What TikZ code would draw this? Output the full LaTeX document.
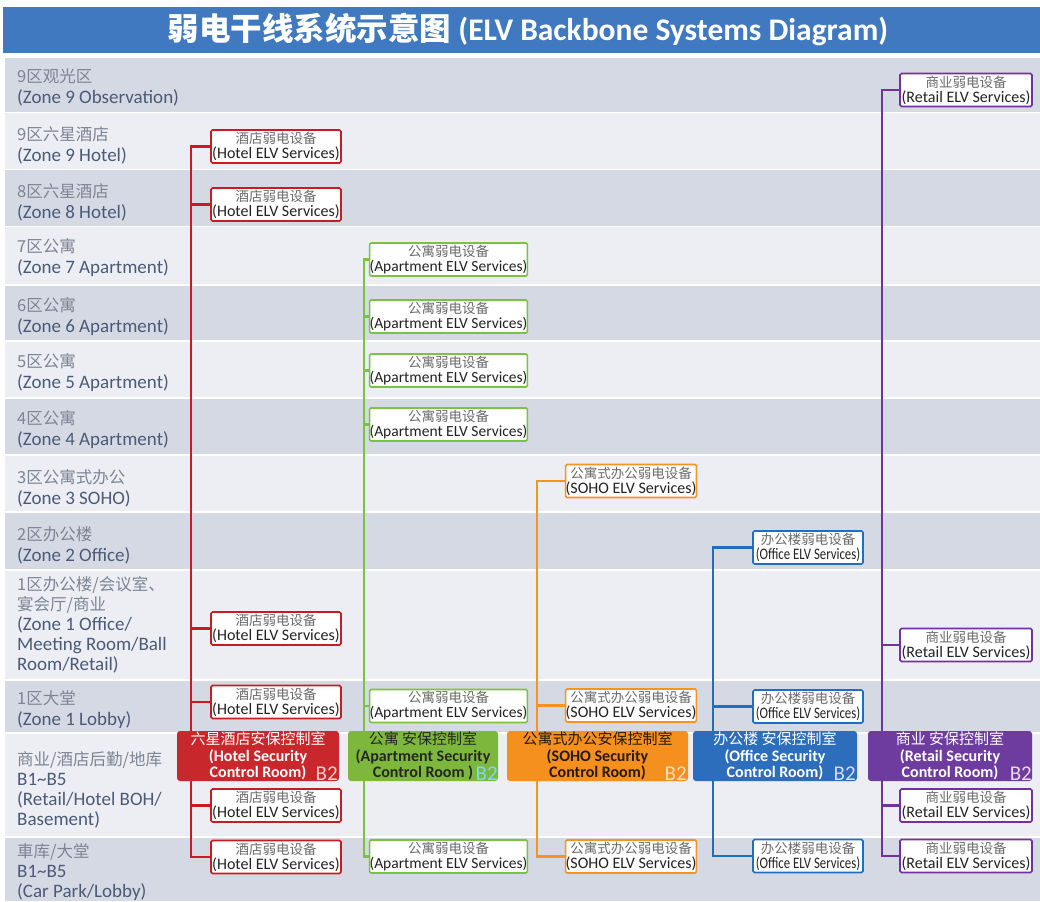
\documentclass[tikz,border=0pt]{standalone}
\usepackage{fontspec}
\setmainfont{Carlito}
\newfontfamily\cjk{Noto Sans CJK SC}
\definecolor{titleblue}{HTML}{4179C0}
\definecolor{bandG}{HTML}{D5D9E3}
\definecolor{bandL}{HTML}{ECEEF3}
\definecolor{lblC}{HTML}{7D8494}
\definecolor{lblE}{HTML}{4B5A78}
\definecolor{cRed}{HTML}{CC1A20}
\definecolor{cGreen}{HTML}{7CC242}
\definecolor{cOrange}{HTML}{F7931E}
\definecolor{cBlue}{HTML}{1D6FC2}
\definecolor{cPurple}{HTML}{7330A0}
\definecolor{fRed}{HTML}{C8282C}
\definecolor{fGreen}{HTML}{7DB83C}
\definecolor{fOrange}{HTML}{F5901E}
\definecolor{fBlue}{HTML}{2C6EBC}
\definecolor{fPurple}{HTML}{6E3C9E}
\definecolor{svcC}{HTML}{6A6A6A}
\definecolor{svcE}{HTML}{222222}
\newcommand{\zc}[1]{{\cjk\fontsize{16.5}{21}\selectfont\color{lblC}#1}}
\newcommand{\svcx}[2]{{\cjk\fontsize{13.5}{15}\selectfont\color{svcC}#1}\\{\color{svcE}#2}}
\newcommand{\ctlx}[3]{{\cjk\fontsize{15}{16.5}\selectfont #1}\\\textbf{#2}\\\textbf{#3}}
\tikzset{
  zlabel/.style={anchor=west, align=left, inner sep=0pt, text=lblE, font=\fontsize{19}{21}\selectfont},
  svcbox/.style={draw=#1, fill=white, line width=1.6pt, rounded corners=1.5pt, inner sep=0pt, align=center, minimum height=33pt, font=\fontsize{16}{15}\selectfont},
  ctlbox/.style={fill=#1, rounded corners=3pt, inner sep=0pt, minimum height=50pt, align=center, font=\fontsize{16}{16.5}\selectfont},
  btwo/.style={anchor=south east, inner sep=0pt, font=\fontsize{21}{21}\selectfont, text=#1},
  trunk/.style={draw=#1, line width=2.4pt}
}
\begin{document}
\begin{tikzpicture}[x=1pt,y=-1pt]
\useasboundingbox (0,0) rectangle (1040,901);
\fill[white] (0,0) rectangle (1040,901);
% bands
\fill[bandG] (5,58) rectangle (1040,112);
\fill[bandL] (5,113.5) rectangle (1040,169);
\fill[bandG] (5,170.5) rectangle (1040,226);
\fill[bandL] (5,227.5) rectangle (1040,284);
\fill[bandG] (5,285.5) rectangle (1040,340);
\fill[bandL] (5,341.5) rectangle (1040,397);
\fill[bandG] (5,398.5) rectangle (1040,454);
\fill[bandL] (5,455.5) rectangle (1040,511);
\fill[bandG] (5,512.5) rectangle (1040,569);
\fill[bandL] (5,570.5) rectangle (1040,679);
\fill[bandG] (5,680.5) rectangle (1040,732);
\fill[bandL] (5,733.5) rectangle (1040,836);
\fill[bandG] (5,837.5) rectangle (1040,901);
% title
\fill[titleblue] (3,7) rectangle (1040,53);
\node[text=white, font=\fontsize{31.5}{32}\selectfont\bfseries] (title) at (528,29) {{\cjk 弱电干线系统示意图} (ELV Backbone Systems Diagram)};
% zone labels
\node[zlabel] (z9o) at (17,87) {\zc{9区观光区}\\(Zone 9 Observation)};
\node[zlabel] (z9h) at (17,145) {\zc{9区六星酒店}\\(Zone 9 Hotel)};
\node[zlabel] (z8h) at (17,202) {\zc{8区六星酒店}\\(Zone 8 Hotel)};
\node[zlabel] (z7) at (17,258) {\zc{7区公寓}\\(Zone 7 Apartment)};
\node[zlabel] (z6) at (17,317) {\zc{6区公寓}\\(Zone 6 Apartment)};
\node[zlabel] (z5) at (17,373) {\zc{5区公寓}\\(Zone 5 Apartment)};
\node[zlabel] (z4) at (17,430) {\zc{4区公寓}\\(Zone 4 Apartment)};
\node[zlabel] (z3) at (17,488) {\zc{3区公寓式办公}\\(Zone 3 SOHO)};
\node[zlabel] (z2) at (17,545) {\zc{2区办公楼}\\(Zone 2 Office)};
\node[zlabel, font=\fontsize{19}{20}\selectfont] (z1o) at (17,625) {\zc{1区办公楼/会议室、}\\\zc{宴会厅/商业}\\(Zone 1 Office/\\Meeting Room/Ball\\Room/Retail)};
\node[zlabel] (z1l) at (17,710) {\zc{1区大堂}\\(Zone 1 Lobby)};
\node[zlabel, font=\fontsize{19}{20}\selectfont] (zb) at (17,790) {\zc{商业/酒店后勤/地库}\\B1\textasciitilde B5\\(Retail/Hotel BOH/\\Basement)};
\node[zlabel, font=\fontsize{19}{20}\selectfont] (zc) at (17,872) {\zc{車库/大堂}\\B1\textasciitilde B5\\(Car Park/Lobby)};
% hotel boxes
\node[svcbox=cRed, minimum width=130pt] (h1) at (276,146.5) {\svcx{酒店弱电设备}{(Hotel ELV Services)}};
\node[svcbox=cRed, minimum width=130pt] (h2) at (276,204.5) {\svcx{酒店弱电设备}{(Hotel ELV Services)}};
\node[svcbox=cRed, minimum width=130pt] (h3) at (276,628.5) {\svcx{酒店弱电设备}{(Hotel ELV Services)}};
\node[svcbox=cRed, minimum width=130pt] (h4) at (276,702) {\svcx{酒店弱电设备}{(Hotel ELV Services)}};
\node[svcbox=cRed, minimum width=130pt] (h5) at (276,805.5) {\svcx{酒店弱电设备}{(Hotel ELV Services)}};
\node[svcbox=cRed, minimum width=130pt] (h6) at (276,857) {\svcx{酒店弱电设备}{(Hotel ELV Services)}};
% apartment boxes
\tikzset{apt/.style={svcbox=cGreen, minimum width=153pt, font=\fontsize{15.5}{15}\selectfont}}
\node[apt] (a1) at (448.5,259.5) {\svcx{公寓弱电设备}{(Apartment ELV Services)}};
\node[apt] (a2) at (448.5,316.5) {\svcx{公寓弱电设备}{(Apartment ELV Services)}};
\node[apt] (a3) at (448.5,370.5) {\svcx{公寓弱电设备}{(Apartment ELV Services)}};
\node[apt] (a4) at (448.5,424.5) {\svcx{公寓弱电设备}{(Apartment ELV Services)}};
\node[apt] (a5) at (448.5,706) {\svcx{公寓弱电设备}{(Apartment ELV Services)}};
\node[apt] (a6) at (448.5,856.5) {\svcx{公寓弱电设备}{(Apartment ELV Services)}};
% soho boxes
\node[svcbox=cOrange, minimum width=130pt] (s1) at (631,481) {\svcx{公寓式办公弱电设备}{(SOHO ELV Services)}};
\node[svcbox=cOrange, minimum width=130pt] (s2) at (631,705.5) {\svcx{公寓式办公弱电设备}{(SOHO ELV Services)}};
\node[svcbox=cOrange, minimum width=130pt] (s3) at (631,856.5) {\svcx{公寓式办公弱电设备}{(SOHO ELV Services)}};
% office boxes
\node[svcbox=cBlue, minimum width=110pt] (o1) at (808,547.5) {\svcx{办公楼弱电设备}{\scalebox{0.8}[1]{(Office ELV Services)}}};
\node[svcbox=cBlue, minimum width=110pt] (o2) at (808,706.5) {\svcx{办公楼弱电设备}{\scalebox{0.8}[1]{(Office ELV Services)}}};
\node[svcbox=cBlue, minimum width=110pt] (o3) at (808,856) {\svcx{办公楼弱电设备}{\scalebox{0.8}[1]{(Office ELV Services)}}};
% retail boxes
\node[svcbox=cPurple, minimum width=132pt] (r1) at (966,90) {\svcx{商业弱电设备}{(Retail ELV Services)}};
\node[svcbox=cPurple, minimum width=132pt] (r2) at (966,645) {\svcx{商业弱电设备}{(Retail ELV Services)}};
\node[svcbox=cPurple, minimum width=132pt] (r3) at (966,805.5) {\svcx{商业弱电设备}{(Retail ELV Services)}};
\node[svcbox=cPurple, minimum width=132pt] (r4) at (966,856) {\svcx{商业弱电设备}{(Retail ELV Services)}};
% trunk points (hidden behind control rooms)
\coordinate (hT) at (191,756);
\coordinate (aT) at (364,756);
\coordinate (sT) at (537,756);
\coordinate (oT) at (713,756);
\coordinate (rT) at (882,756);
% connectors
\foreach \n in {h1,h2,h3,h4,h5,h6} \draw[trunk=cRed] (\n.west) -| (hT);
\foreach \n in {a1,a2,a3,a4,a5,a6} \draw[trunk=cGreen] (\n.west) -| (aT);
\foreach \n in {s1,s2,s3} \draw[trunk=cOrange] (\n.west) -| (sT);
\foreach \n in {o1,o2,o3} \draw[trunk=cBlue] (\n.west) -| (oT);
\foreach \n in {r1,r2,r3,r4} \draw[trunk=cPurple] (\n.west) -| (rT);
% control rooms
\node[ctlbox=fRed, minimum width=162pt, text=white] (hc) at (258,756) {\ctlx{六星酒店安保控制室}{(Hotel Security}{Control Room)}};
\node[ctlbox=fGreen, minimum width=150pt, text=black!85] (ac) at (423,756) {\ctlx{公寓 安保控制室}{(Apartment Security}{Control Room )}};
\node[ctlbox=fOrange, minimum width=181pt, text=black!80!brown] (sc) at (597.5,756) {\ctlx{公寓式办公安保控制室}{(SOHO Security}{Control Room)}};
\node[ctlbox=fBlue, minimum width=164pt, text=white] (oc) at (775,756) {\ctlx{办公楼 安保控制室}{(Office Security}{Control Room)}};
\node[ctlbox=fPurple, minimum width=164pt, text=white] (rc) at (950,756) {\ctlx{商业 安保控制室}{(Retail Security}{Control Room)}};
% B2 tags
\node[btwo=white!80!red] (hb) at (338,781) {B2};
\node[btwo=cyan!50!white] (ab) at (498,781) {B2};
\node[btwo=white!75!orange] (sb) at (687,781) {B2};
\node[btwo=white!85!blue] (ob) at (856,781) {B2};
\node[btwo=white!85!violet] (rb) at (1032,781) {B2};
\end{tikzpicture}
\end{document}
